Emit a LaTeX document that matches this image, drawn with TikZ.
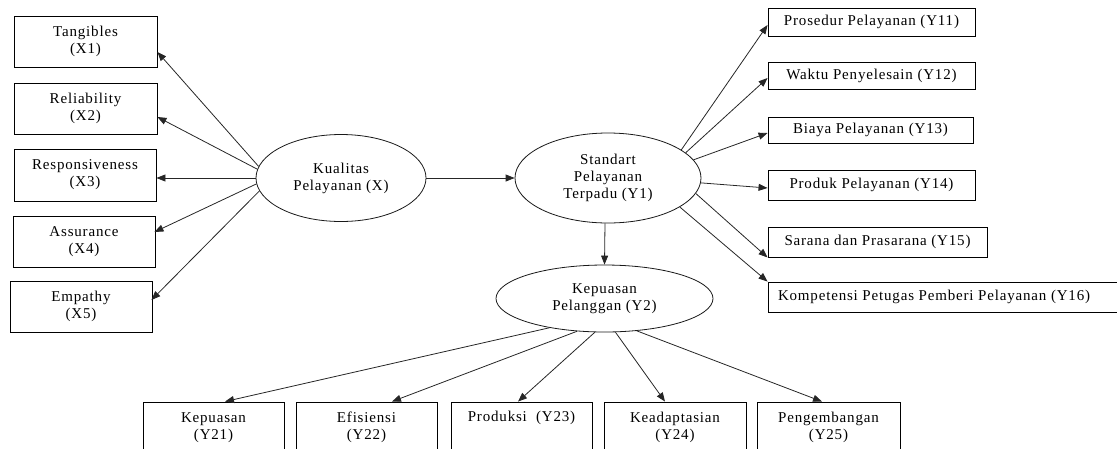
\documentclass[tikz,border=0pt]{standalone}
\usepackage{fontspec}
\setmainfont[LetterSpace=5.5]{Liberation Serif}
\usetikzlibrary{shapes.geometric,arrows.meta,calc}
\begin{document}
\begin{tikzpicture}[x=1pt,y=-1pt,
  every node/.style={font=\fontsize{15}{17}\selectfont, align=center, text=black},
  box/.style={draw=black, rectangle, inner sep=0pt, line width=0.9pt},
  lbox/.style={box, minimum width=142pt, minimum height=51pt},
  rbox/.style={box, minimum height=28pt},
  oval/.style={draw=black!90, ellipse, inner sep=0pt, line width=0.8pt},
  link/.style={draw=black!85, line width=0.8pt, -{Triangle[length=9pt,width=7pt]}}]
\useasboundingbox (0,0) rectangle (1117,448);
% left indicators
\node[lbox, minimum width=143pt] (X1) at (85.5,41.5) {Tangibles\\(X1)};
\node[lbox, minimum width=143pt] (X2) at (85.5,108.5) {Reliability\\(X2)};
\node[lbox, minimum height=52pt] (X3) at (85,175) {Responsiveness\\(X3)};
\node[lbox] (X4) at (84,241.5) {Assurance\\(X4)};
\node[lbox] (X5) at (81,306.5) {Empathy\\(X5)};
% latent variables
\node[oval, minimum width=170pt, minimum height=87pt] (K) at (341,178) {Kualitas\\Pelayanan (X)};
\node[oval, minimum width=186pt, minimum height=90pt] (S) at (608,178) {Standart\\Pelayanan\\Terpadu (Y1)};
\node[oval, minimum width=217pt, minimum height=67pt] (P) at (604.5,298.5) {Kepuasan\\Pelanggan (Y2)};
% right indicators
\node[rbox, minimum width=207pt] (Y11) at (871.5,22) {Prosedur Pelayanan (Y11)};
\node[rbox, minimum width=207pt, minimum height=27pt] (Y12) at (871.5,75.5) {Waktu Penyelesain (Y12)};
\node[rbox, minimum width=205pt, minimum height=26pt] (Y13) at (870.5,130) {Biaya Pelayanan (Y13)};
\node[rbox, minimum width=207pt, minimum height=30pt] (Y14) at (871.5,185) {Produk Pelayanan (Y14)};
\node[rbox, minimum width=219pt, minimum height=30pt] (Y15) at (877.5,242) {Sarana dan Prasarana (Y15)};
\node[rbox, minimum width=354pt, minimum height=30pt] (Y16) at (945,297) {\makebox[354pt][l]{\hspace{10pt}Kompetensi Petugas Pemberi Pelayanan (Y16)}};
% bottom indicators
\node[lbox, minimum width=141pt] (Y21) at (213.5,427.5) {Kepuasan\\(Y21)};
\node[lbox, minimum width=141pt] (Y22) at (366.5,427.5) {Efisiensi\\(Y22)};
\node[lbox, minimum width=141pt] (Y23) at (521.5,427.5) {Produksi\ \ (Y23)\\\strut};
\node[lbox] (Y24) at (675,427.5) {Keadaptasian\\(Y24)};
\node[lbox, minimum width=143pt] (Y25) at (828.5,427.5) {Pengembangan\\(Y25)};
% connectors: X -> indicators
\draw[link] (K.172.4) -- ([yshift=-10.5pt]X1.east);
\draw[link] (K.174.6) -- ([yshift=-8.5pt]X2.east);
\draw[link] (K.180) -- ([yshift=-3pt]X3.east);
\draw[link] (K.184.8) -- ([yshift=9.5pt,xshift=-1pt]X4.east);
\draw[link] (K.189.8) -- ([yshift=6.5pt,xshift=-1pt]X5.east);
% structural paths
\draw[link] (K.east) -- (S.west);
\draw[link] ([xshift=-3pt]S.south) -- (P.north);
% Y1 -> indicators
\draw[link] (S.21.4) -- ([yshift=-3pt]Y11.west);
\draw[link] (S.18.2) -- ([yshift=-2.5pt]Y12.west);
\draw[link] (S.12.6) -- ([yshift=-3pt]Y13.west);
\draw[link] (S.-3.7) -- ([yshift=-3pt]Y14.west);
\draw[link] (S.-10.8) -- (Y15.south west);
\draw[link] (S.-22.6) -- (Y16.north west);
% Y2 -> indicators
\draw[link] (P.208.7) -- ([xshift=11.5pt]Y21.north);
\draw[link] (P.230.6) -- ([xshift=25.5pt]Y22.north);
\draw[link] (P.254.6) -- ([xshift=-3.5pt]Y23.north);
\draw[link] (P.288.4) -- ([xshift=-10pt]Y24.north);
\draw[link] (P.315.9) -- ([xshift=-6.5pt]Y25.north);
\end{tikzpicture}
\end{document}
